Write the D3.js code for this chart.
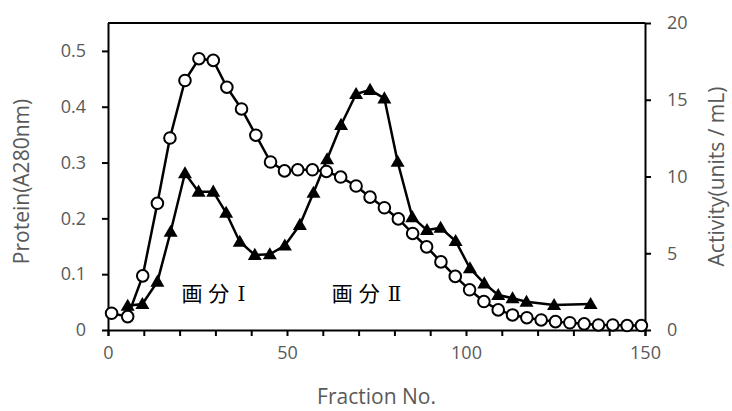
<!DOCTYPE html>
<html>
<head>
<meta charset="utf-8">
<script src="https://cdn.jsdelivr.net/npm/d3@7"></script>
<style>
  html, body { margin: 0; padding: 0; background: #fff; }
  svg { display: block; }
  text { font-family: "Open Sans", "Liberation Sans", sans-serif; fill: #595959; }
</style>
</head>
<body>
<svg id="chart" width="732" height="411"></svg>
<script>
// Protein (A280nm), open circles, left axis
const proteinFraction = [1, 5.5, 9.7, 13.8, 17.3, 21.5, 25.4, 29.4, 33.2, 37.3, 41.3, 45.4, 49.3, 53, 57.1, 61, 65, 69.3, 73.2, 77.2, 81.1, 85.1, 89, 93, 97, 101, 105, 109, 113, 117, 121, 125, 129, 133, 137, 141, 145, 149];
const proteinValues = [0.030, 0.024, 0.097, 0.227, 0.344, 0.447, 0.486, 0.483, 0.435, 0.396, 0.349, 0.301, 0.285, 0.287, 0.287, 0.284, 0.274, 0.258, 0.238, 0.219, 0.199, 0.173, 0.149, 0.122, 0.096, 0.072, 0.051, 0.036, 0.027, 0.022, 0.018, 0.015, 0.013, 0.011, 0.009, 0.009, 0.008, 0.008];

// Activity (units / mL), filled triangles, right axis
const activityFraction = [5.5, 9.6, 13.8, 17.5, 21.5, 25.3, 29.4, 33, 36.8, 41, 45.2, 49.4, 53.6, 57.4, 61.2, 65.1, 69.3, 73.2, 77.2, 80.9, 85, 89.1, 92.9, 97.1, 101.1, 105.1, 109, 113, 116.9, 124.6, 134.8];
const activityValues = [1.58, 1.69, 3.15, 6.40, 10.21, 9.01, 9.01, 7.64, 5.75, 4.89, 4.93, 5.50, 6.85, 8.94, 11.12, 13.36, 15.37, 15.64, 15.09, 10.96, 7.35, 6.51, 6.66, 5.80, 4.02, 3.04, 2.28, 2.07, 1.84, 1.63, 1.69];

const xTicks = [0, 10, 20, 30, 40, 50, 60, 70, 80, 90, 100, 110, 120, 130, 140, 150];
const xTickLabels = [0, 50, 100, 150];
const leftTicks = [0, 0.1, 0.2, 0.3, 0.4, 0.5];
const rightTicks = [0, 5, 10, 15, 20];

const fractionLabels = [
  { text: "画分", numeral: "Ⅰ", at: 20.5, level: 0.062 },
  { text: "画分", numeral: "Ⅱ", at: 62.5, level: 0.062 }
];

const svg = d3.select("#chart");
const L = 108, R = 645, T = 23, B = 330;

const x = d3.scaleLinear().domain([0, 150]).range([L, R]);
const yL = d3.scaleLinear().domain([0, 0.55]).range([B, T]);
const yR = d3.scaleLinear().domain([0, 20]).range([B, T]);

// frame top line
svg.append("line").attr("x1", L).attr("x2", R).attr("y1", T).attr("y2", T)
  .attr("stroke", "#000").attr("stroke-width", 2);

function styleAxis(g) {
  g.select(".domain").attr("stroke", "#000").attr("stroke-width", 2);
  g.selectAll(".tick line").attr("stroke", "#000").attr("stroke-width", 2);
  g.selectAll(".tick text").style("font-size", "18px").attr("fill", "#595959");
}

const xAxis = svg.append("g").attr("transform", `translate(0,${B})`)
  .call(d3.axisBottom(x).tickValues(xTicks).tickSizeOuter(0).tickSize(6).tickPadding(10)
    .tickFormat(d => xTickLabels.includes(d) ? d : ""));
styleAxis(xAxis);

const lAxis = svg.append("g").attr("transform", `translate(${L},0)`)
  .call(d3.axisLeft(yL).tickValues(leftTicks).tickSizeOuter(0).tickSize(6).tickPadding(16)
    .tickFormat(d => d === 0 ? "0" : d.toFixed(1)));
styleAxis(lAxis);
lAxis.select(".domain").attr("d", `M0.5,${B}V${T}`);

const rAxis = svg.append("g").attr("transform", `translate(${R},0)`)
  .call(d3.axisRight(yR).tickValues(rightTicks).tickSizeOuter(0).tickSize(6).tickPadding(16));
styleAxis(rAxis);
rAxis.select(".domain").attr("d", `M0.5,${B}V${T}`);

// protein line + circles
const proteinPts = proteinFraction.map((f, i) => [f, proteinValues[i]]);
svg.append("path").datum(proteinPts)
  .attr("fill", "none").attr("stroke", "#000").attr("stroke-width", 2.5)
  .attr("d", d3.line().x(d => x(d[0])).y(d => yL(d[1])));

// activity line + triangles
const activityPts = activityFraction.map((f, i) => [f, activityValues[i]]);
svg.append("path").datum(activityPts)
  .attr("fill", "none").attr("stroke", "#000").attr("stroke-width", 2.5)
  .attr("d", d3.line().x(d => x(d[0])).y(d => yR(d[1])));

svg.append("g").selectAll("circle").data(proteinPts).join("circle")
  .attr("cx", d => x(d[0])).attr("cy", d => yL(d[1])).attr("r", 5.8)
  .attr("fill", "#fff").attr("stroke", "#000").attr("stroke-width", 2);

const tri = d3.symbol().type(d3.symbolTriangle).size(85);
svg.append("g").selectAll("path").data(activityPts).join("path")
  .attr("transform", d => `translate(${x(d[0])},${yR(d[1]) + 1})`)
  .attr("d", tri).attr("fill", "#000");

// fraction labels
const fl = svg.append("g").selectAll("text").data(fractionLabels).join("text")
  .attr("x", d => x(d.at)).attr("y", d => yL(d.level))
  .attr("text-anchor", "start").attr("dominant-baseline", "middle")
  .style("font-family", "'Noto Sans CJK JP', sans-serif")
  .style("font-size", "21px").style("letter-spacing", "6px")
  .style("fill", "#000");
fl.append("tspan").text(d => d.text);
fl.append("tspan")
  .style("font-family", "'DejaVu Serif', 'Liberation Serif', 'Noto Sans CJK JP', serif")
  .style("font-size", "20px").style("letter-spacing", "0px")
  .attr("dx", 2)
  .text(d => d.numeral);

// axis titles
svg.append("text").attr("x", (L + R) / 2).attr("y", 398)
  .attr("text-anchor", "middle").attr("dominant-baseline", "middle")
  .style("font-size", "21px").text("Fraction No.");

svg.append("text").attr("transform", `translate(23,${(T + B) / 2 + 5}) rotate(-90)`)
  .attr("text-anchor", "middle").attr("dominant-baseline", "middle")
  .style("font-size", "21px").text("Protein(A280nm)");

svg.append("text").attr("transform", `translate(718,${(T + B) / 2}) rotate(-90)`)
  .attr("text-anchor", "middle").attr("dominant-baseline", "middle")
  .style("font-size", "21px").text("Activity(units / mL)");
</script>
</body>
</html>
